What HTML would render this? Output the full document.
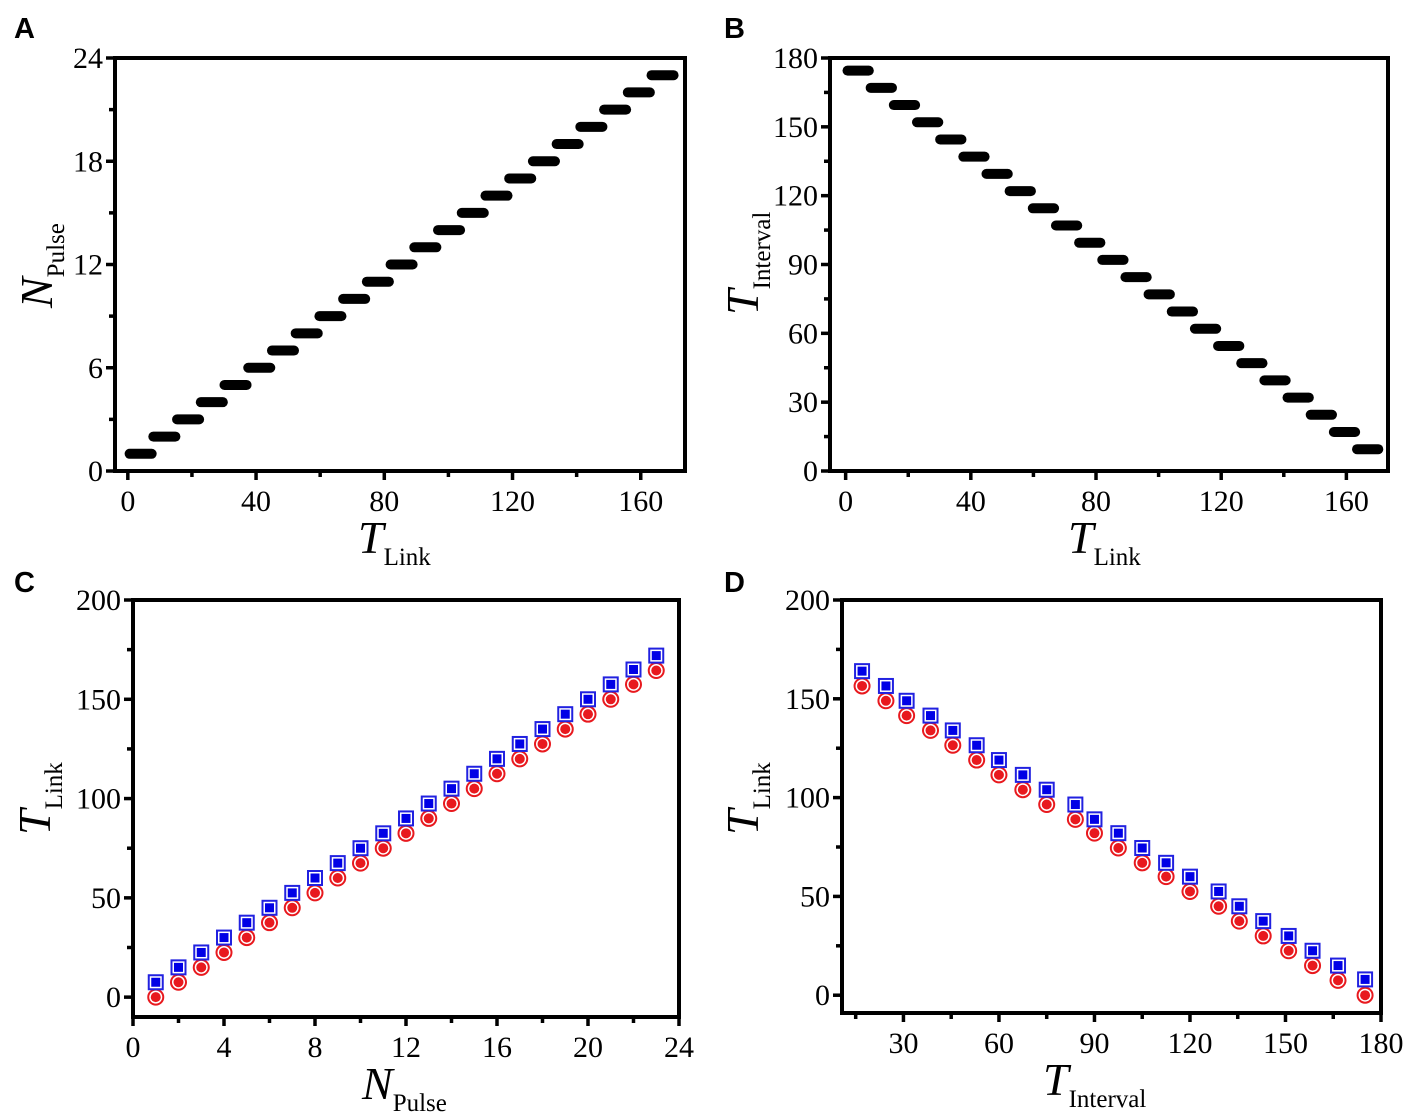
<!DOCTYPE html>
<html><head><meta charset="utf-8"><style>
html,body{margin:0;padding:0;background:#fff}
svg{display:block}
text{font-family:"Liberation Serif",serif;fill:#000}
.tick{font-size:30px}
.lbl{font-family:"Liberation Sans",sans-serif;font-weight:bold;font-size:29px}
</style></head><body>
<svg id="fig" width="1417" height="1119" viewBox="0 0 1417 1119">
<text class="lbl" x="14" y="38">A</text>
<text class="lbl" x="724" y="38">B</text>
<text class="lbl" x="14" y="592">C</text>
<text class="lbl" x="724" y="592">D</text>
</svg>
<script>
// Panel A data
const aPulse=[1,2,3,4,5,6,7,8,9,10,11,12,13,14,15,16,17,18,19,20,21,22,23];
const aStart=[-1,6.4,13.8,21.2,28.6,36,43.4,50.8,58.2,65.6,73,80.4,87.8,95.2,102.6,110,117.4,124.8,132.2,139.6,147,154.4,161.8];
const aEnd=[9,16.4,23.8,31.2,38.6,46,53.4,60.8,68.2,75.6,83,90.4,97.8,105.2,112.6,120,127.4,134.8,142.2,149.6,157,164.4,171.8];
const aXTicks=[0,40,80,120,160];
const aYTicks=[0,6,12,18,24];
// Panel B data
const bInterval=[174.5,167,159.5,152,144.5,137,129.5,122,114.5,107,99.5,92,84.5,77,69.5,62,54.5,47,39.5,32,24.5,17,9.5];
const bXTicks=[0,40,80,120,160];
const bYTicks=[0,30,60,90,120,150,180];
// Panel C data
const cPulse=[1,2,3,4,5,6,7,8,9,10,11,12,13,14,15,16,17,18,19,20,21,22,23];
const cBlue=[7.5,15,22.5,30,37.5,45,52.5,60,67.5,75,82.5,90,97.5,105,112.5,120,127.5,135,142.5,150,157.5,165,172];
const cRed=[0,7.5,15,22.5,30,37.5,45,52.5,60,67.5,75,82.5,90,97.5,105,112.5,120,127.5,135,142.5,150,157.5,164.5];
const cXTicks=[0,4,8,12,16,20,24];
const cYTicks=[0,50,100,150,200];
// Panel D data
const dInterval=[17,24.5,31,38.5,45.5,53,60,67.5,75,84,90,97.5,105,112.5,120,129,135.5,143,151,158.5,166.5,175];
const dBlue=[164,156.5,149,141.5,134,126.5,119,111.5,104,96.5,89,82,74.5,67,60,52.5,45,37.5,30,22.5,15,8];
const dRed=[156.5,149,141.5,134,126.5,119,111.5,104,96.5,89,82,74.5,67,60,52.5,45,37.5,30,22.5,15,7.5,0];
const dXTicks=[30,60,90,120,150,180];
const dYTicks=[0,50,100,150,200];

const NS="http://www.w3.org/2000/svg";
const svg=document.getElementById('fig');
function mk(tag,attrs,parent){const e=document.createElementNS(NS,tag);for(const k in attrs)e.setAttribute(k,attrs[k]);(parent||svg).appendChild(e);return e;}

function panel(p){
  const g=mk('g',{});
  
  
  const sx=v=>p.x0+(v-p.xmin)/(p.xmax-p.xmin)*(p.x1-p.x0);
  const sy=v=>p.y1-(v-p.ymin)/(p.ymax-p.ymin)*(p.y1-p.y0);
  p.xt.forEach(v=>{const x=sx(v);
    const t=mk('line',{x1:x,x2:x,y1:p.y1,y2:p.y1+9,stroke:'#000','stroke-width':3.5},g);
    
    const tx=mk('text',{x:x,y:p.y1+40,'text-anchor':'middle',class:'tick'},g);tx.textContent=v;
    
  });
  p.xm.forEach(v=>{const x=sx(v);mk('line',{x1:x,x2:x,y1:p.y1,y2:p.y1+6,stroke:'#000','stroke-width':3.5},g);});
  p.yt.forEach(v=>{const y=sy(v);
    mk('line',{x1:p.x0-9,x2:p.x0,y1:y,y2:y,stroke:'#000','stroke-width':3.5},g);
    const tx=mk('text',{x:p.x0-12,y:y+10,'text-anchor':'end',class:'tick'},g);tx.textContent=v;
    
  });
  p.ym.forEach(v=>{const y=sy(v);mk('line',{x1:p.x0-6,x2:p.x0,y1:y,y2:y,stroke:'#000','stroke-width':3.5},g);});
  const fr=mk('rect',{x:p.x0,y:p.y0,width:p.x1-p.x0,height:p.y1-p.y0,fill:'none',stroke:'#000','stroke-width':4},g);
  
  const xt=mk('text',{x:p.xtx,y:p.y1+82,'font-size':46,'font-style':'italic'},g);
  
  xt.innerHTML=p.xTitle[0]+'<tspan font-style="normal" font-size="25" dy="12">'+p.xTitle[1]+'</tspan>';
  const yt=mk('text',{transform:'translate('+p.ytx+','+p.yty+') rotate(-90)','font-size':46,'font-style':'italic'},g);
  
  yt.innerHTML=p.yTitle[0]+'<tspan font-style="normal" font-size="25" dy="12">'+p.yTitle[1]+'</tspan>';
  return {g,sx,sy};
}

let A=panel({id:'a',x0:115,x1:685,y0:58,y1:471,xmin:-4,xmax:173.8,ymin:0,ymax:24,
  xt:aXTicks,xm:[20,60,100,140],yt:aYTicks,ym:[3,9,15,21],xTitle:['T','Link'],yTitle:['N','Pulse'],xtx:358,ytx:52,yty:308});
aPulse.forEach((n,i)=>{const y=A.sy(n);
  const s=mk('line',{x1:A.sx(aStart[i])+5,x2:A.sx(aEnd[i])-5,y1:y,y2:y,stroke:'#000','stroke-width':10,'stroke-linecap':'round'},A.g);
  });
let B=panel({id:'b',x0:830,x1:1388,y0:58,y1:471,xmin:-5,xmax:173.3,ymin:0,ymax:180,
  xt:bXTicks,xm:[20,60,100,140],yt:bYTicks,ym:[15,45,75,105,135,165],xTitle:['T','Link'],yTitle:['T','Interval'],xtx:1068,ytx:758,yty:315});
bInterval.forEach((v,i)=>{const y=B.sy(v);
  const s=mk('line',{x1:B.sx(aStart[i])+5,x2:B.sx(aEnd[i])-5,y1:y,y2:y,stroke:'#000','stroke-width':10,'stroke-linecap':'round'},B.g);
  });

function markers(P,xs,blue,red){
  xs.forEach((x,i)=>{const px=P.sx(x);
    const ry=P.sy(red[i]);
    const c=mk('g',{},P.g);
    mk('circle',{cx:px,cy:ry,r:7.5,fill:'#fff',stroke:'#e8191e','stroke-width':2},c);
    mk('circle',{cx:px,cy:ry,r:5,fill:'#e8191e'},c);
  });
  xs.forEach((x,i)=>{const px=P.sx(x);
    const by=P.sy(blue[i]);
    const q=mk('g',{},P.g);
    mk('rect',{x:px-7,y:by-7,width:14,height:14,fill:'#fff',stroke:'#2121e0','stroke-width':2},q);
    mk('rect',{x:px-4.5,y:by-4.5,width:9,height:9,fill:'#0000e6'},q);
  });
}
let C=panel({id:'c',x0:133,x1:679,y0:600,y1:1017,xmin:0,xmax:24,ymin:-10,ymax:200,
  xt:cXTicks,xm:[2,6,10,14,18,22],yt:cYTicks,ym:[25,75,125,175],xTitle:['N','Pulse'],yTitle:['T','Link'],xtx:362,ytx:50,yty:835});
markers(C,cPulse,cBlue,cRed);
let D=panel({id:'d',x0:842,x1:1381,y0:600,y1:1013,xmin:10.7,xmax:180,ymin:-9,ymax:200,
  xt:dXTicks,xm:[15,45,75,105,135,165],yt:dYTicks,ym:[25,75,125,175],xTitle:['T','Interval'],yTitle:['T','Link'],xtx:1043,ytx:758,yty:835});
markers(D,dInterval,dBlue,dRed);
</script>
</body></html>
